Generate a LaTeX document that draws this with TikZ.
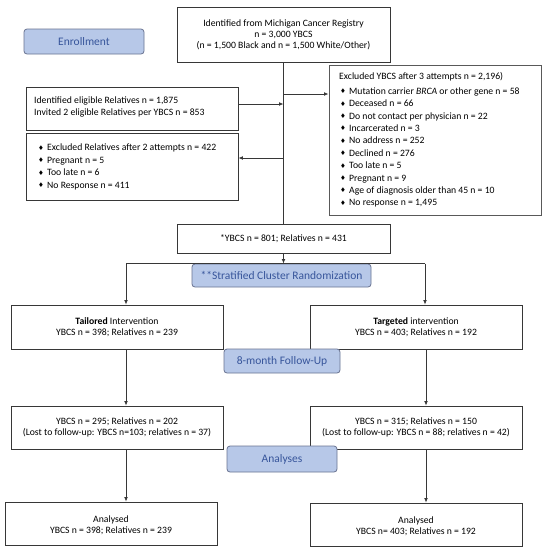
\documentclass[tikz,border=0pt]{standalone}
\usepackage{fontspec}
\setmainfont{Carlito}
\newfontfamily\symfont{DejaVu Sans}
\usetikzlibrary{arrows.meta}
\definecolor{labfill}{RGB}{183,200,232}
\definecolor{labborder}{RGB}{105,115,145}
\definecolor{labtext}{RGB}{55,85,155}
\definecolor{boxline}{RGB}{55,55,55}
\newcommand\bul{\makebox[9pt][l]{\raisebox{0.6pt}{\symfont\fontsize{6.5}{6.5}\selectfont ♦}}}
\begin{document}
\begin{tikzpicture}[x=1pt,y=-1pt,
  box/.style={draw=boxline, line width=0.8pt, fill=white, inner sep=0pt},
  lab/.style={draw=labborder, fill=labfill, rounded corners=3pt, line width=0.8pt,
    text=labtext, font=\fontsize{11.5}{13}\selectfont, inner sep=0pt},
  txt/.style={font=\fontsize{9.7}{11.2}\selectfont, align=center, inner sep=0pt},
  lst/.style={font=\fontsize{9.7}{12.4}\selectfont, align=left, inner sep=0pt, anchor=west},
  arr/.style={-{Latex[length=4.5pt,width=3.8pt]}, line width=0.8pt, draw=boxline},
  ln/.style={line width=0.8pt, draw=boxline}]
\useasboundingbox[fill=white] (0,0) rectangle (547,550);

% boxes
\node[box, minimum width=213pt, minimum height=55pt] (top) at (283.5,34.5) {};
\node[box, minimum width=212pt, minimum height=150pt, draw=black!65, line width=1pt] (excl) at (435,140) {};
\node[box, minimum width=212pt, minimum height=43pt] (rel) at (132,108.5) {};
\node[box, minimum width=212pt, minimum height=67pt] (exrel) at (132,166.5) {};
\node[box, minimum width=213pt, minimum height=29pt] (ybcs) at (283.5,238.5) {};
\node[box, minimum width=212pt, minimum height=44pt] (tail) at (117,327) {};
\node[box, minimum width=212pt, minimum height=44pt] (targ) at (416,327) {};
\node[box, minimum width=212pt, minimum height=43pt] (fl) at (117,427.5) {};
\node[box, minimum width=212pt, minimum height=43pt] (fr) at (416,427.5) {};
\node[box, minimum width=212pt, minimum height=43pt] (al) at (111,523.5) {};
\node[box, minimum width=212pt, minimum height=43pt] (ar) at (416,524.5) {};

% labels
\node[lab, minimum width=120pt, minimum height=25pt] (enr) at (84,41.5) {Enrollment};
\node[lab, minimum width=179pt, minimum height=23pt] (rand) at (281.5,275.5) {**Stratified Cluster Randomization};
\node[lab, minimum width=116pt, minimum height=24pt] (fup) at (282,361) {8-month Follow-Up};
\node[lab, minimum width=110pt, minimum height=26pt] (ana) at (282,459) {Analyses};

% texts
\node[txt] (ttop) at (top) {Identified from Michigan Cancer Registry\\n = 3,000 YBCS\\(n = 1,500 Black and n = 1,500 White/Other)};
\node[lst, font=\fontsize{9.7}{12}\selectfont] (trel) at (34,107) {Identified eligible Relatives n = 1,875\\Invited 2 eligible Relatives per YBCS n = 853};
\node[lst, font=\fontsize{9.7}{12.6}\selectfont] (texrel) at (38,167) {\bul Excluded Relatives after 2 attempts n = 422\\\bul Pregnant n = 5\\\bul Too late n = 6\\\bul No Response n = 411};
\node[lst] (texh) at (339,77) {Excluded YBCS after 3 attempts n = 2,196)};
\node[lst] (texcl) at (340,147.5) {\bul Mutation carrier \textit{BRCA} or other gene n = 58\\
\bul Deceased n = 66\\
\bul Do not contact per physician n = 22\\
\bul Incarcerated n = 3\\
\bul No address n = 252\\
\bul Declined n = 276\\
\bul Too late n = 5\\
\bul Pregnant n = 9\\
\bul Age of diagnosis older than 45 n = 10\\
\bul No response n = 1,495};
\node[txt] (tybcs) at (ybcs) {*YBCS n = 801; Relatives n = 431};
\node[txt] (ttail) at (tail) {\textbf{Tailored} Intervention\\YBCS n = 398; Relatives n = 239};
\node[txt] (ttarg) at (targ) {\textbf{Targeted} intervention\\YBCS n = 403; Relatives n = 192};
\node[txt] (tfl) at (fl) {YBCS n = 295; Relatives n = 202\\(Lost to follow-up: YBCS n=103; relatives n = 37)};
\node[txt] (tfr) at (fr) {YBCS n = 315; Relatives n = 150\\(Lost to follow-up: YBCS n = 88; relatives n = 42)};
\node[txt, yshift=-2pt] (tal) at (al) {Analysed\\YBCS n = 398; Relatives n = 239};
\node[txt, yshift=-2pt] (tar) at (ar) {Analysed\\YBCS n= 403; Relatives n = 192};

% connectors
\coordinate (j1) at (283.5,94);
\coordinate (j2) at (283.5,104);
\coordinate (j3) at (283.5,158);
\coordinate (hl) at (126,263.5);
\coordinate (hr) at (425,263.5);
\coordinate (hm) at (283.5,263.5);
\coordinate (xl) at (126,0);
\coordinate (xr) at (426,0);
\draw[ln] (top.south) -- (ybcs.north);
\draw[arr] (j1) -- (j1 -| excl.west);
\draw[arr] (rel.east |- j2) -- (j2);
\draw[arr] (j3) -- (j3 -| exrel.east);
\draw[arr] (ybcs.south) -- (hm);
\draw[ln] (hl) -- (hr);
\draw[arr] (hl) -- (hl |- tail.north);
\draw[arr] (hr) -- (hr |- targ.north);
\draw[arr] (xl |- tail.south) -- (xl |- fl.north);
\draw[arr] (xr |- targ.south) -- (xr |- fr.north);
\draw[arr] (xl |- fl.south) -- (xl |- al.north);
\draw[arr] (xr |- fr.south) -- (xr |- ar.north);
\end{tikzpicture}
\end{document}
